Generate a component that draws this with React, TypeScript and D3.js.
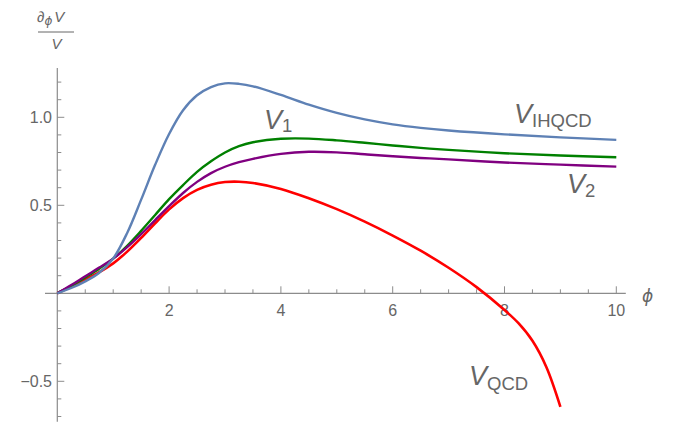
import React from "react";
import * as d3 from "d3";

// φ sample points and ∂φV/V values for each potential
const phiIHQCD = [0, 0.25, 0.5, 0.75, 1.0, 1.25, 1.5, 1.75, 2.0, 2.25, 2.5, 2.75, 3.0, 3.25, 3.5, 4.0, 4.5, 5.0, 5.5, 6.0, 6.5, 7.0, 8.0, 9.0, 10];
const valIHQCD = [0, 0.03, 0.068, 0.117, 0.198, 0.343, 0.532, 0.73, 0.905, 1.04, 1.125, 1.172, 1.193, 1.19, 1.176, 1.127, 1.072, 1.025, 0.988, 0.96, 0.94, 0.925, 0.903, 0.886, 0.872];

const phiV1 = [0, 0.25, 0.5, 0.75, 1.0, 1.25, 1.5, 1.75, 2.0, 2.25, 2.5, 2.75, 3.0, 3.25, 3.5, 4.0, 4.5, 5.0, 5.5, 6.0, 6.5, 7.0, 8.0, 9.0, 10];
const valV1 = [0, 0.042, 0.09, 0.14, 0.197, 0.27, 0.355, 0.445, 0.535, 0.615, 0.69, 0.75, 0.8, 0.836, 0.858, 0.878, 0.879, 0.869, 0.855, 0.84, 0.826, 0.815, 0.796, 0.783, 0.773];

const phiV2 = [0, 0.25, 0.5, 0.75, 1.0, 1.25, 1.5, 1.75, 2.0, 2.25, 2.5, 2.75, 3.0, 3.25, 3.5, 4.0, 4.5, 5.0, 5.5, 6.0, 6.5, 7.0, 8.0, 9.0, 10];
const valV2 = [0, 0.047, 0.097, 0.146, 0.197, 0.262, 0.336, 0.416, 0.495, 0.57, 0.633, 0.683, 0.719, 0.745, 0.764, 0.792, 0.804, 0.801, 0.79, 0.779, 0.769, 0.761, 0.743, 0.731, 0.72];

const phiQCD = [0, 0.25, 0.5, 0.75, 1.0, 1.25, 1.5, 1.75, 2.0, 2.25, 2.5, 2.75, 3.0, 3.25, 3.5, 4.0, 4.5, 5.0, 5.5, 6.0, 6.5, 7.0, 7.5, 8.0, 8.25, 8.5, 8.75, 9.0];
const valQCD = [0, 0.038, 0.078, 0.12, 0.17, 0.237, 0.315, 0.398, 0.477, 0.541, 0.588, 0.617, 0.632, 0.634, 0.627, 0.593, 0.54, 0.478, 0.407, 0.328, 0.242, 0.145, 0.035, -0.095, -0.17, -0.27, -0.42, -0.645];

// axis ticks
const xMajorTicks = [2, 4, 6, 8, 10];
const xTickLabels = ["2", "4", "6", "8", "10"];
const yMajorTicks = [-0.5, 0.5, 1.0];
const yTickLabels = ["\u22120.5", "0.5", "1.0"];

const W = 677;
const H = 430;
const FONT = "'Liberation Sans', Arial, sans-serif";
const AXIS = "#8c8c8c";
const TEXT = "#666666";

export default function App() {
  const x = d3.scaleLinear().domain([0, 10]).range([57.3, 616.3]);
  const y = d3.scaleLinear().domain([0, 1]).range([293.3, 117.3]);

  const xMin = -0.22, xMax = 10.17;
  const yMin = -0.73, yMax = 1.28;

  const xMinor = d3.range(0.5, 10.01, 0.5).filter((v) => Math.abs(v % 2) > 1e-6);
  const yMinor = d3.range(-7, 13).map((k) => k / 10).filter((v) => Math.abs(v) > 1e-6 && !yMajorTicks.some((m) => Math.abs(m - v) < 1e-6));

  const line = d3
    .line<[number, number]>()
    .x((d) => x(d[0]))
    .y((d) => y(d[1]))
    .curve(d3.curveCatmullRom.alpha(0.5));

  const series = [
    { phi: phiQCD, val: valQCD, color: "#ff0000", w: 2.6 },
    { phi: phiV1, val: valV1, color: "#008000", w: 2.4 },
    { phi: phiV2, val: valV2, color: "#800080", w: 2.4 },
    { phi: phiIHQCD, val: valIHQCD, color: "#5e81b5", w: 2.4 },
  ];

  return (
    <svg
      width={W}
      height={H}
      style={{ position: "absolute", left: 0, top: 0, background: "#fff" }}
      fontFamily={FONT}
    >
      {/* axes */}
      <line x1={x(xMin)} x2={x(xMax)} y1={y(0)} y2={y(0)} stroke={AXIS} strokeWidth={1.2} />
      <line x1={x(0)} x2={x(0)} y1={y(yMin)} y2={y(yMax)} stroke={AXIS} strokeWidth={1.2} />

      {xMinor.map((v) => (
        <line key={"xm" + v} x1={x(v)} x2={x(v)} y1={y(0)} y2={y(0) - 4} stroke={AXIS} strokeWidth={1} />
      ))}
      {xMajorTicks.map((v, i) => (
        <g key={"xM" + v}>
          <line x1={x(v)} x2={x(v)} y1={y(0)} y2={y(0) - 7} stroke={AXIS} strokeWidth={1} />
          <text x={x(v)} y={316} fontSize={16} fill={TEXT} textAnchor="middle">
            {xTickLabels[i]}
          </text>
        </g>
      ))}

      {yMinor.map((v) => (
        <line key={"ym" + v} x1={x(0)} x2={x(0) + 4} y1={y(v)} y2={y(v)} stroke={AXIS} strokeWidth={1} />
      ))}
      {yMajorTicks.map((v, i) => (
        <g key={"yM" + v}>
          <line x1={x(0)} x2={x(0) + 7} y1={y(v)} y2={y(v)} stroke={AXIS} strokeWidth={1} />
          <text x={52} y={y(v) + 5.8} fontSize={16} fill={TEXT} textAnchor="end">
            {yTickLabels[i]}
          </text>
        </g>
      ))}

      {/* curves */}
      {series.map((s, i) => (
        <path
          key={i}
          d={line(s.phi.map((p, j) => [p, s.val[j]] as [number, number])) || ""}
          fill="none"
          stroke={s.color}
          strokeWidth={s.w}
          strokeLinejoin="round"
          strokeLinecap="butt"
        />
      ))}

      {/* axis labels */}
      <text x={642} y={302} fontSize={17} fill={TEXT} fontStyle="italic" fontFamily="'DejaVu Sans', sans-serif">ϕ</text>
      <text x={37} y={22} fontSize={15} fill={TEXT}>
        <tspan>∂</tspan>
        <tspan fontSize={12} fontStyle="italic" dy={3} fontFamily="'DejaVu Sans', sans-serif">ϕ</tspan>
        <tspan fontStyle="italic" dy={-3} dx={2}>V</tspan>
      </text>
      <line x1={38} x2={74} y1={32} y2={32} stroke={TEXT} strokeWidth={1} />
      <text x={56.5} y={49} fontSize={15} fill={TEXT} fontStyle="italic" textAnchor="middle">V</text>

      {/* curve labels */}
      <text x={264} y={129} fontSize={27} fill={TEXT}>
        <tspan fontStyle="italic">V</tspan>
        <tspan fontSize={18.5} dy={3}>1</tspan>
      </text>
      <text x={514} y={123} fontSize={27} fill={TEXT}>
        <tspan fontStyle="italic">V</tspan>
        <tspan fontSize={18.5} dy={4}>IHQCD</tspan>
      </text>
      <text x={567} y={193} fontSize={27} fill={TEXT}>
        <tspan fontStyle="italic">V</tspan>
        <tspan fontSize={18.5} dy={4}>2</tspan>
      </text>
      <text x={469} y={385} fontSize={27} fill={TEXT}>
        <tspan fontStyle="italic">V</tspan>
        <tspan fontSize={18.5} dy={5}>QCD</tspan>
      </text>
    </svg>
  );
}
